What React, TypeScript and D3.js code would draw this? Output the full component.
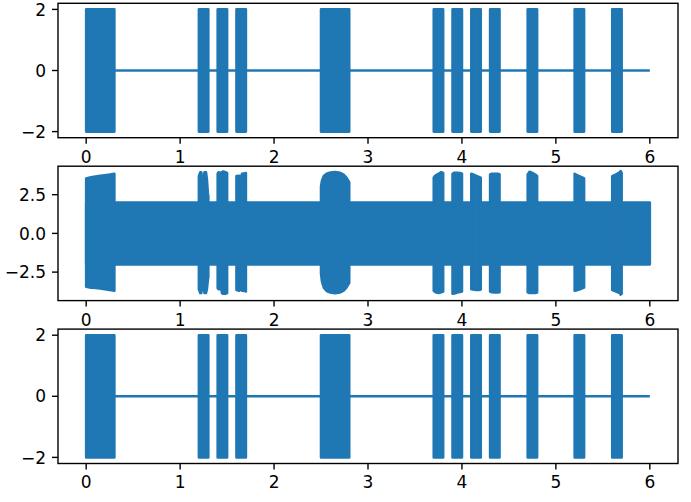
import React from "react";
import * as d3 from "d3";

// ---- data ----
const X_TICKS = [0, 1, 2, 3, 4, 5, 6];
const TOP_Y_TICKS = [-2, 0, 2];
const MID_Y_TICKS = [-2.5, 0, 2.5];

// burst intervals (seconds)
const BURST_START = [0, 1.2, 1.4, 1.6, 2.5, 3.7, 3.9, 4.1, 4.3, 4.7, 5.2, 5.6];
const BURST_END = [0.3, 1.3, 1.5, 1.7, 2.8, 3.8, 4.0, 4.2, 4.4, 4.8, 5.3, 5.7];
const BURST_AMP = 2; // top / bottom panels
const CARRIER_AMP = 2; // middle panel, constant band
const SIGNAL_START = 0;
const SIGNAL_END = 6;

// middle panel envelopes during bursts (time, upper, lower)
const MID_ENV_T = [
  [0, 0.05, 0.1, 0.15, 0.2, 0.25, 0.3],
  [1.2, 1.215, 1.225, 1.235, 1.245, 1.26, 1.275, 1.285, 1.295, 1.3],
  [1.4, 1.41, 1.425, 1.435, 1.445, 1.46, 1.48, 1.5],
  [1.6, 1.63, 1.645, 1.66, 1.69, 1.7],
  [2.5, 2.51, 2.53, 2.56, 2.6, 2.65, 2.7, 2.74, 2.77, 2.8],
  [3.7, 3.72, 3.75, 3.78, 3.8],
  [3.9, 3.92, 3.95, 3.98, 4.0],
  [4.1, 4.12, 4.15, 4.18, 4.2],
  [4.3, 4.32, 4.35, 4.38, 4.4],
  [4.7, 4.72, 4.75, 4.78, 4.8],
  [5.2, 5.22, 5.25, 5.28, 5.3],
  [5.6, 5.63, 5.66, 5.68, 5.69, 5.7],
];
const MID_ENV_UP = [
  [3.55, 3.62, 3.68, 3.72, 3.76, 3.8, 3.85],
  [3.7, 3.95, 3.95, 3.3, 3.4, 3.95, 3.95, 3.5, 2.6, 2.4],
  [3.85, 3.95, 3.9, 3.4, 3.95, 4.0, 3.95, 3.9],
  [3.7, 3.72, 3.6, 3.85, 3.88, 3.9],
  [3.0, 3.4, 3.7, 3.85, 3.93, 3.97, 3.92, 3.8, 3.6, 3.3],
  [3.6, 3.75, 3.85, 3.95, 3.9],
  [3.85, 3.92, 3.92, 3.9, 3.85],
  [3.85, 3.8, 3.72, 3.65, 3.6],
  [3.8, 3.85, 3.85, 3.85, 3.82],
  [3.8, 3.98, 3.9, 3.8, 3.7],
  [3.85, 3.78, 3.7, 3.62, 3.55],
  [3.7, 3.78, 3.88, 3.95, 4.03, 3.9],
];
const MID_ENV_LO = [
  [-3.45, -3.5, -3.52, -3.55, -3.6, -3.65, -3.7],
  [-3.6, -3.85, -3.85, -3.2, -3.3, -3.85, -3.85, -3.6, -3.0, -2.8],
  [-3.55, -3.6, -3.6, -3.3, -3.85, -3.9, -3.9, -3.85],
  [-3.65, -3.7, -3.45, -3.7, -3.72, -3.75],
  [-2.6, -3.1, -3.5, -3.72, -3.82, -3.86, -3.82, -3.7, -3.5, -3.2],
  [-3.7, -3.8, -3.85, -3.8, -3.75],
  [-3.9, -3.88, -3.82, -3.78, -3.75],
  [-3.6, -3.62, -3.65, -3.65, -3.62],
  [-3.75, -3.8, -3.82, -3.82, -3.8],
  [-3.8, -3.85, -3.85, -3.85, -3.82],
  [-3.7, -3.68, -3.62, -3.55, -3.5],
  [-3.65, -3.72, -3.8, -3.85, -3.95, -3.9],
];

// ---- styling ----
const W = 691;
const H = 502;
const BLUE = "#1f77b4";
const LW = 2.6;
const FRAME_W = 1.4;
const TICK_LEN = 6;
const TICK_PAD = 6;
const FONT = 17;
const AX_LEFT = 58;
const AX_RIGHT = 678;
const AX_H = 134.4;
const AX_TOPS = [3.3, 166.2, 329.1];

const fmtInt = (v: number) => (v < 0 ? "\u2212" + Math.abs(v) : String(v));
const fmt1 = (v: number) => (v < 0 ? "\u2212" + Math.abs(v).toFixed(1) : v.toFixed(1));

type PanelProps = {
  top: number;
  yDomain: [number, number];
  yTicks: number[];
  yFmt: (v: number) => string;
  kind: "burst" | "mixed";
};

function Panel({ top, yDomain, yTicks, yFmt, kind }: PanelProps) {
  const x = d3.scaleLinear().domain([-0.3, 6.3]).range([AX_LEFT, AX_RIGHT]);
  const y = d3.scaleLinear().domain(yDomain).range([top + AX_H, top]);
  const bottom = top + AX_H;

  const rectArea = d3
    .area<number>()
    .x((t) => x(t))
    .y0(() => 0)
    .y1(() => 0);

  const paths: React.ReactNode[] = [];

  if (kind === "burst") {
    const zero = d3.line<number>().x((t) => x(t)).y(() => y(0));
    paths.push(
      <path key="zero" d={zero([SIGNAL_START, SIGNAL_END]) || ""} fill="none" stroke={BLUE} strokeWidth={LW} />
    );
    BURST_START.forEach((s, i) => {
      const a = d3
        .area<number>()
        .x((t) => x(t))
        .y0(() => y(-BURST_AMP))
        .y1(() => y(BURST_AMP));
      paths.push(
        <path
          key={"b" + i}
          d={a([s, BURST_END[i]]) || ""}
          fill={BLUE}
          stroke={BLUE}
          strokeWidth={LW}
          strokeLinejoin="round"
        />
      );
    });
  } else {
    const band = d3
      .area<number>()
      .x((t) => x(t))
      .y0(() => y(-CARRIER_AMP))
      .y1(() => y(CARRIER_AMP));
    paths.push(
      <path
        key="band"
        d={band([SIGNAL_START, SIGNAL_END]) || ""}
        fill={BLUE}
        stroke={BLUE}
        strokeWidth={LW}
        strokeLinejoin="round"
      />
    );
    MID_ENV_T.forEach((ts, i) => {
      const idx = ts.map((_, j) => j);
      const a = d3
        .area<number>()
        .x((j) => x(ts[j]))
        .y0((j) => y(MID_ENV_LO[i][j]))
        .y1((j) => y(MID_ENV_UP[i][j]));
      paths.push(
        <path
          key={"m" + i}
          d={a(idx) || ""}
          fill={BLUE}
          stroke={BLUE}
          strokeWidth={LW}
          strokeLinejoin="round"
        />
      );
    });
  }
  void rectArea;

  return (
    <g>
      <rect x={AX_LEFT} y={top} width={AX_RIGHT - AX_LEFT} height={AX_H} fill="#ffffff" />
      {paths}
      <rect
        x={AX_LEFT}
        y={top}
        width={AX_RIGHT - AX_LEFT}
        height={AX_H}
        fill="none"
        stroke="#000"
        strokeWidth={FRAME_W}
      />
      {X_TICKS.map((t) => (
        <g key={"xt" + t}>
          <line x1={x(t)} x2={x(t)} y1={bottom} y2={bottom + TICK_LEN} stroke="#000" strokeWidth={FRAME_W} />
          <text
            x={x(t)}
            y={bottom + TICK_LEN + TICK_PAD + FONT * 0.76}
            textAnchor="middle"
            fontSize={FONT}
            fontFamily="DejaVu Sans"
            fill="#000"
          >
            {fmtInt(t)}
          </text>
        </g>
      ))}
      {yTicks.map((v) => (
        <g key={"yt" + v}>
          <line x1={AX_LEFT - TICK_LEN} x2={AX_LEFT} y1={y(v)} y2={y(v)} stroke="#000" strokeWidth={FRAME_W} />
          <text
            x={AX_LEFT - TICK_LEN - TICK_PAD}
            y={y(v) + FONT * 0.36}
            textAnchor="end"
            fontSize={FONT}
            fontFamily="DejaVu Sans"
            fill="#000"
          >
            {yFmt(v)}
          </text>
        </g>
      ))}
    </g>
  );
}

export default function App() {
  return (
    <svg
      width={W}
      height={H}
      viewBox={`0 0 ${W} ${H}`}
      style={{ position: "absolute", left: 0, top: 0, background: "#fff" }}
    >
      <rect x={0} y={0} width={W} height={H} fill="#fff" />
      <Panel top={AX_TOPS[0]} yDomain={[-2.2, 2.2]} yTicks={TOP_Y_TICKS} yFmt={fmtInt} kind="burst" />
      <Panel top={AX_TOPS[1]} yDomain={[-4.34, 4.34]} yTicks={MID_Y_TICKS} yFmt={fmt1} kind="mixed" />
      <Panel top={AX_TOPS[2]} yDomain={[-2.2, 2.2]} yTicks={TOP_Y_TICKS} yFmt={fmtInt} kind="burst" />
    </svg>
  );
}
